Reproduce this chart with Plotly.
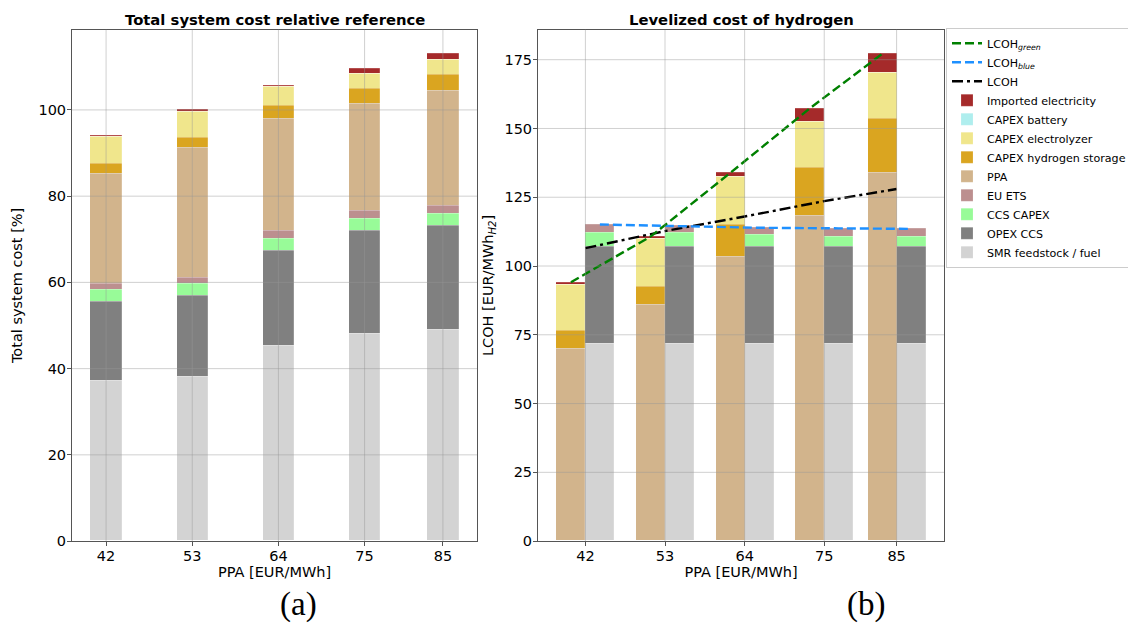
import plotly.graph_objects as go

# ---------------- data ----------------
ppa = [42, 53, 64, 75, 85]

# (a) Total system cost relative reference [%]
a_smr = [37.2, 38.1, 45.2, 48.2, 49.0]
a_opex_ccs = [18.3, 18.7, 22.2, 23.7, 24.1]
a_ccs_capex = [2.8, 2.8, 2.8, 2.8, 2.8]
a_eu_ets = [1.4, 1.5, 1.7, 1.9, 1.9]
a_ppa = [25.5, 30.1, 26.0, 24.8, 26.6]
a_h2_storage = [2.4, 2.3, 3.0, 3.6, 3.8]
a_electrolyzer = [6.1, 6.1, 4.4, 3.5, 3.4]
a_battery = [0.0, 0.0, 0.0, 0.0, 0.0]
a_imported = [0.3, 0.4, 0.4, 1.1, 1.4]

# (b) Levelized cost of hydrogen [EUR/MWh_H2]
# green hydrogen components
g_ppa = [70.1, 85.9, 103.2, 118.2, 134.0]
g_h2_storage = [6.2, 6.5, 11.8, 17.4, 19.5]
g_electrolyzer = [16.9, 17.5, 17.4, 17.0, 16.8]
g_battery = [0.0, 0.0, 0.0, 0.0, 0.0]
g_imported = [0.9, 0.8, 1.4, 4.7, 6.8]
# blue hydrogen components
b_smr = [71.6, 71.6, 71.6, 71.6, 71.6]
b_opex_ccs = [35.5, 35.5, 35.5, 35.5, 35.5]
b_ccs_capex = [5.1, 4.9, 4.2, 3.7, 3.6]
b_eu_ets = [2.9, 2.6, 2.6, 2.9, 2.8]
# lines
lcoh_green = [94.1, 110.7, 133.8, 157.3, 177.1]
lcoh_blue = [115.1, 114.6, 113.9, 113.7, 113.5]
lcoh = [106.5, 112.7, 118.0, 123.6, 128.0]

left_yticks = [0, 20, 40, 60, 80, 100]
right_yticks = [0, 25, 50, 75, 100, 125, 150, 175]

# ---------------- styles ----------------
colors = {
    "Imported electricity": "#a52a2a",
    "CAPEX battery": "#afeeee",
    "CAPEX electrolyzer": "#f0e68c",
    "CAPEX hydrogen storage": "#daa520",
    "PPA": "#d2b48c",
    "EU ETS": "#bc8f8f",
    "CCS CAPEX": "#98fb98",
    "OPEX CCS": "#808080",
    "SMR feedstock / fuel": "#d3d3d3",
}
FONT = "DejaVu Sans, Verdana, sans-serif"
bw = 4.0
x_green = [p - bw / 2 for p in ppa]
x_blue = [p + bw / 2 for p in ppa]
edge = dict(color="rgba(255,255,255,0.35)", width=0.5)

fig = go.Figure()

left_stack = [
    ("SMR feedstock / fuel", a_smr),
    ("OPEX CCS", a_opex_ccs),
    ("CCS CAPEX", a_ccs_capex),
    ("EU ETS", a_eu_ets),
    ("PPA", a_ppa),
    ("CAPEX hydrogen storage", a_h2_storage),
    ("CAPEX electrolyzer", a_electrolyzer),
    ("CAPEX battery", a_battery),
    ("Imported electricity", a_imported),
]
for name, vals in left_stack:
    fig.add_trace(go.Bar(x=ppa, y=vals, width=bw, name=name, legendgroup=name,
                         marker=dict(color=colors[name], line=edge),
                         showlegend=True, xaxis="x", yaxis="y"))

right_blue = [
    ("SMR feedstock / fuel", b_smr),
    ("OPEX CCS", b_opex_ccs),
    ("CCS CAPEX", b_ccs_capex),
    ("EU ETS", b_eu_ets),
]
right_green = [
    ("PPA", g_ppa),
    ("CAPEX hydrogen storage", g_h2_storage),
    ("CAPEX electrolyzer", g_electrolyzer),
    ("CAPEX battery", g_battery),
    ("Imported electricity", g_imported),
]
for name, vals in right_blue:
    fig.add_trace(go.Bar(x=x_blue, y=vals, width=bw, name=name, legendgroup=name,
                         marker=dict(color=colors[name], line=edge),
                         showlegend=False, xaxis="x2", yaxis="y2"))
for name, vals in right_green:
    fig.add_trace(go.Bar(x=x_green, y=vals, width=bw, name=name, legendgroup=name,
                         marker=dict(color=colors[name], line=edge),
                         showlegend=False, xaxis="x2", yaxis="y2"))

fig.add_trace(go.Scatter(x=ppa, y=lcoh, mode="lines", name="LCOH",
                         line=dict(color="black", width=2.4, dash="11px,4px,3px,4px"),
                         xaxis="x2", yaxis="y2"))
fig.add_trace(go.Scatter(x=x_blue, y=lcoh_blue, mode="lines", name="LCOH<sub><i>blue</i></sub>",
                         line=dict(color="#1e90ff", width=2.4, dash="9px,4px"),
                         xaxis="x2", yaxis="y2"))
fig.add_trace(go.Scatter(x=x_green, y=lcoh_green, mode="lines", name="LCOH<sub><i>green</i></sub>",
                         line=dict(color="green", width=2.4, dash="9px,4px"),
                         xaxis="x2", yaxis="y2"))

W, H = 1136, 626
def px_x(p):
    return p / W
def px_y(p):
    return 1 - p / H

GRID = "rgba(150,150,150,0.45)"
axis_common = dict(
    showline=True, mirror=True, linecolor="#555555", linewidth=1,
    showgrid=False,
    ticks="outside", ticklen=4, tickcolor="#555555",
    tickfont=dict(family=FONT, size=14.5, color="black"),
    zeroline=False, ticklabelstandoff=-2,
)

# grid lines drawn above the bars (as in the reference)
shapes = []
for xr, yr, xt, yt in [("x", "y", ppa, left_yticks), ("x2", "y2", ppa, right_yticks)]:
    for t in xt:
        shapes.append(dict(type="line", xref=xr, yref=yr + " domain", x0=t, x1=t, y0=0, y1=1,
                           line=dict(color=GRID, width=1), layer="above"))
    for t in yt[1:]:
        shapes.append(dict(type="line", xref=xr + " domain", yref=yr, x0=0, x1=1, y0=t, y1=t,
                           line=dict(color=GRID, width=1), layer="above"))

title_font = dict(family=FONT, size=14.5)
fig.update_layout(
    width=W, height=H,
    margin=dict(l=0, r=0, t=0, b=0),
    paper_bgcolor="white", plot_bgcolor="white",
    barmode="stack", bargap=0,
    font=dict(family=FONT, color="black"),
    shapes=shapes,
    xaxis=dict(domain=[px_x(64), px_x(469)], range=[37.65, 89.35],
               tickvals=ppa, ticktext=[str(p) for p in ppa],
               title=dict(text="PPA [EUR/MWh]", font=title_font, standoff=0),
               anchor="y", **axis_common),
    yaxis=dict(domain=[px_y(540), px_y(22)], range=[0, 118.6], tickvals=left_yticks,
               title=dict(text="Total system cost [%]", font=title_font, standoff=12),
               anchor="x", **axis_common),
    xaxis2=dict(domain=[px_x(530), px_x(936)], range=[35.45, 91.55],
                tickvals=ppa, ticktext=[str(p) for p in ppa],
                title=dict(text="PPA [EUR/MWh]", font=title_font, standoff=0),
                anchor="y2", **axis_common),
    yaxis2=dict(domain=[px_y(540), px_y(22)], range=[0, 185.9], tickvals=right_yticks,
                title=dict(text="LCOH [EUR/MWh<sub><i>H2</i></sub>]", font=title_font, standoff=7),
                anchor="x2", **axis_common),
    legend=dict(x=px_x(938), y=px_y(20), xanchor="left", yanchor="top",
                traceorder="reversed", font=dict(family=FONT, size=11.1),
                bordercolor="#cccccc", borderwidth=1, bgcolor="white",
                itemwidth=30, tracegroupgap=0),
    annotations=[
        dict(text="<b>Total system cost relative reference</b>", x=(px_x(64) + px_x(469)) / 2,
             y=px_y(12), xref="paper", yref="paper", showarrow=False,
             font=dict(family=FONT, size=14.8), xanchor="center", yanchor="middle"),
        dict(text="<b>Levelized cost of hydrogen</b>", x=(px_x(530) + px_x(936)) / 2,
             y=px_y(12), xref="paper", yref="paper", showarrow=False,
             font=dict(family=FONT, size=14.8), xanchor="center", yanchor="middle"),
        dict(text="(a)", x=px_x(290), y=px_y(604), xref="paper", yref="paper", showarrow=False,
             font=dict(family="Liberation Serif, DejaVu Serif, serif", size=33), xanchor="center", yanchor="middle"),
        dict(text="(b)", x=px_x(858), y=px_y(604), xref="paper", yref="paper", showarrow=False,
             font=dict(family="Liberation Serif, DejaVu Serif, serif", size=33), xanchor="center", yanchor="middle"),
    ],
)

fig.write_html("out.html")
